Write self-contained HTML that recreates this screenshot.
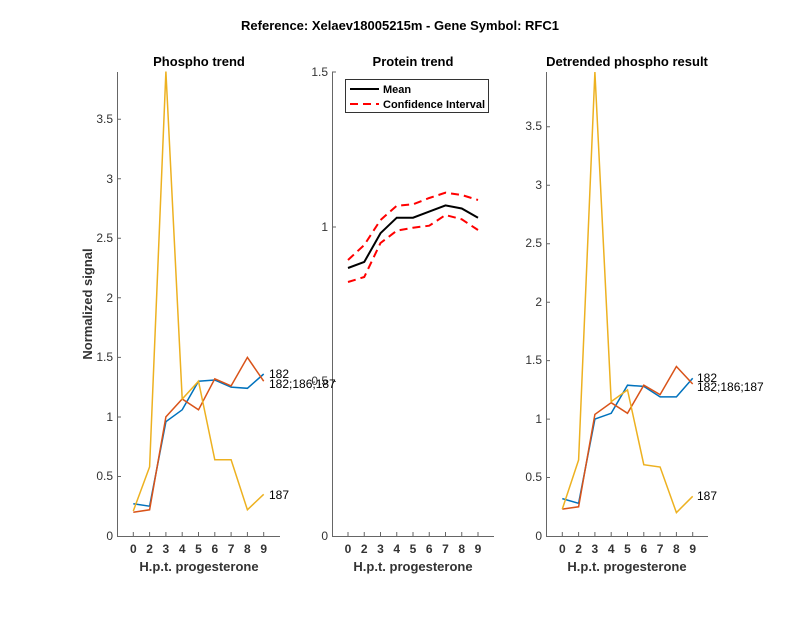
<!DOCTYPE html><html><head><style>body{margin:0;background:#fff}text{font-family:"Liberation Sans",sans-serif;}</style></head><body>
<svg width="800" height="618" xmlns="http://www.w3.org/2000/svg">
<rect width="800" height="618" fill="#fff"/>
<text x="400" y="30" font-size="13" font-weight="bold" text-anchor="middle">Reference:  Xelaev18005215m - Gene Symbol:  RFC1</text>
<g font-size="13" font-weight="bold" text-anchor="middle" fill="#000">
<text x="199" y="66">Phospho trend</text><text x="413" y="66">Protein trend</text><text x="627" y="66">Detrended phospho result</text>
</g>
<g font-size="13" font-weight="bold" text-anchor="middle" fill="#333">
<text x="199" y="571">H.p.t. progesterone</text><text x="413" y="571">H.p.t. progesterone</text><text x="627" y="571">H.p.t. progesterone</text>
<text transform="translate(92,304) rotate(-90)">Normalized signal</text>
</g>
<g stroke="#666" fill="none" stroke-width="1">
<path d="M117.5,72V536.5H280"/><path d="M332.5,72V536.5H494"/><path d="M546.5,72V536.5H708"/>
<path d="M133.3,536v-4M149.6,536v-4M165.9,536v-4M182.2,536v-4M198.5,536v-4M214.8,536v-4M231.1,536v-4M247.4,536v-4M263.7,536v-4"/>
<path d="M348,536v-4M364.25,536v-4M380.5,536v-4M396.75,536v-4M413,536v-4M429.25,536v-4M445.5,536v-4M461.75,536v-4M478,536v-4"/>
<path d="M562.3,536v-4M578.6,536v-4M594.9,536v-4M611.2,536v-4M627.5,536v-4M643.8,536v-4M660.1,536v-4M676.4,536v-4M692.7,536v-4"/>
<path d="M117,476.5h4M117,417h4M117,357.4h4M117,297.8h4M117,238.3h4M117,178.7h4M117,119.2h4"/>
<path d="M332,381.5h4M332,227h4M332,72h4"/>
<path d="M546,477.5h4M546,419.1h4M546,360.6h4M546,302.2h4M546,243.7h4M546,185.3h4M546,126.8h4"/>
</g>
<g font-size="12" fill="#333" text-anchor="end">
<text x="113" y="540">0</text><text x="113" y="480">0.5</text><text x="113" y="421">1</text><text x="113" y="361">1.5</text><text x="113" y="302">2</text><text x="113" y="242">2.5</text><text x="113" y="183">3</text><text x="113" y="123">3.5</text>
<text x="328" y="540">0</text><text x="328" y="385">0.5</text><text x="328" y="231">1</text><text x="328" y="76">1.5</text>
<text x="542" y="540">0</text><text x="542" y="481">0.5</text><text x="542" y="423">1</text><text x="542" y="364">1.5</text><text x="542" y="306">2</text><text x="542" y="247">2.5</text><text x="542" y="189">3</text><text x="542" y="130">3.5</text>
</g>
<g font-size="12" font-weight="bold" fill="#333" text-anchor="middle">
<text x="133.3" y="553">0</text><text x="149.6" y="553">2</text><text x="165.9" y="553">3</text><text x="182.2" y="553">4</text><text x="198.5" y="553">5</text><text x="214.8" y="553">6</text><text x="231.1" y="553">7</text><text x="247.4" y="553">8</text><text x="263.7" y="553">9</text>
<text x="348" y="553">0</text><text x="364.25" y="553">2</text><text x="380.5" y="553">3</text><text x="396.75" y="553">4</text><text x="413" y="553">5</text><text x="429.25" y="553">6</text><text x="445.5" y="553">7</text><text x="461.75" y="553">8</text><text x="478" y="553">9</text>
<text x="562.3" y="553">0</text><text x="578.6" y="553">2</text><text x="594.9" y="553">3</text><text x="611.2" y="553">4</text><text x="627.5" y="553">5</text><text x="643.8" y="553">6</text><text x="660.1" y="553">7</text><text x="676.4" y="553">8</text><text x="692.7" y="553">9</text>
</g>
<g fill="none" stroke-width="1.5">
<polyline stroke="#0072BD" points="133.3,503.8 149.6,506.2 165.9,421.7 182.2,409.8 198.5,381.2 214.8,380 231.1,387.1 247.4,388.3 263.7,374"/>
<polyline stroke="#D95319" points="133.3,512.2 149.6,509.8 165.9,416.9 182.2,399 198.5,409.8 214.8,378.8 231.1,385.9 247.4,357.4 263.7,381.2"/>
<polyline stroke="#EDB120" points="133.3,511 149.6,466.9 165.9,71.5 182.2,399 198.5,381.2 214.8,459.8 231.1,459.8 247.4,509.8 263.7,494.3"/>
<polyline stroke="#0072BD" points="562.3,498.6 578.6,503.3 594.9,419.1 611.2,413.3 627.5,385.2 643.8,386.4 660.1,396.9 676.4,396.9 692.7,378.2"/>
<polyline stroke="#D95319" points="562.3,509.1 578.6,506.8 594.9,414.4 611.2,402.7 627.5,413.3 643.8,385.2 660.1,394.6 676.4,366.5 692.7,384"/>
<polyline stroke="#EDB120" points="562.3,509.1 578.6,460 594.9,72 611.2,401.6 627.5,389.9 643.8,464.7 660.1,467 676.4,512.6 692.7,496.3"/>
<polyline stroke="#000" stroke-width="2" points="348,268 364.25,262 380.5,233.2 396.75,217.7 413,217.7 429.25,211.6 445.5,205.4 461.75,208.5 478,217.7"/>
<polyline stroke="#f00" stroke-width="2" stroke-dasharray="8,5" points="348,260 364.25,245 380.5,220 396.75,205.7 413,204.3 429.25,198 445.5,192.7 461.75,195 478,200"/>
<polyline stroke="#f00" stroke-width="2" stroke-dasharray="8,5" points="348,282 364.25,277 380.5,243 396.75,230.7 413,227.7 429.25,225.7 445.5,215 461.75,219.3 478,230"/>
</g>
<g font-size="12" fill="#000">
<text x="269" y="378">182</text><text x="269" y="388">182;186;187</text><text x="269" y="499">187</text>
<text x="697" y="382">182</text><text x="697" y="391">182;186;187</text><text x="697" y="500">187</text>
</g>
<rect x="345.5" y="79.5" width="143" height="33" fill="#fff" stroke="#333"/>
<line x1="350" y1="89" x2="379" y2="89" stroke="#000" stroke-width="2"/>
<line x1="350" y1="104" x2="379" y2="104" stroke="#f00" stroke-width="2" stroke-dasharray="8,5"/>
<g font-size="11" font-weight="bold"><text x="383" y="93">Mean</text><text x="383" y="108">Confidence Interval</text></g>
</svg></body></html>
